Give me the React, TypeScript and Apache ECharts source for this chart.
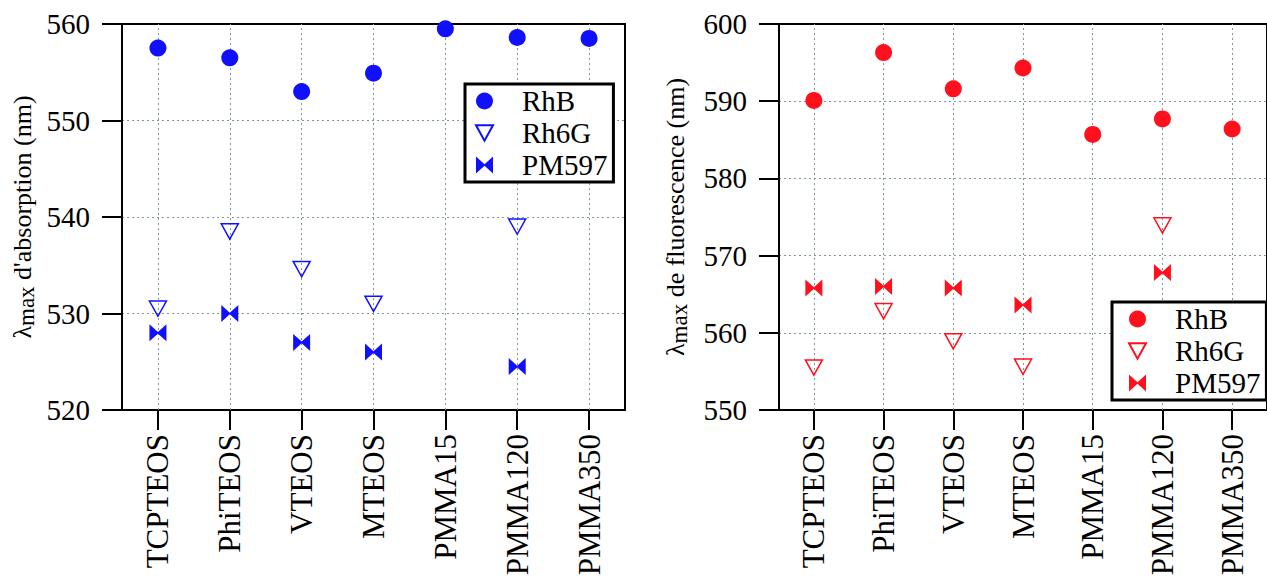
import React, { useEffect, useRef } from "react";
import * as echarts from "echarts";

const categories = ["TCPTEOS", "PhiTEOS", "VTEOS", "MTEOS", "PMMA15", "PMMA120", "PMMA350"];
const seriesNames = ["RhB", "Rh6G", "PM597"];

// absorption maxima (nm)
const absRhB = [557.5, 556.5, 553.0, 554.9, 559.5, 558.6, 558.5];
const absRh6G = [530.5, 538.5, 534.6, 531.0, null, 539.0, null];
const absPM597 = [528.0, 530.0, 527.0, 526.0, null, 524.5, null];

// fluorescence maxima (nm)
const fluRhB = [590.1, 596.3, 591.6, 594.3, 585.7, 587.7, 586.4];
const fluRh6G = [555.5, 562.8, 558.9, 555.6, null, 573.9, null];
const fluPM597 = [565.8, 566.0, 565.8, 563.6, null, 567.8, null];

const absTicks = { min: 520, max: 560, interval: 10 };
const fluTicks = { min: 550, max: 600, interval: 10 };

const BLUE = "#1010ff";
const RED = "#ff101c";
const FONT = "Liberation Serif";
const GRIDC = "#7f979c";

const TRI = "path://M0,0L20,0L10,18Z";
const BOW = "path://M0,0L10,9L20,0L20,20L10,11L0,20Z";

function makeSeries(prefix: string, idx: number, color: string, data: any[][]) {
  const [rhb, rh6g, pm] = data;
  const vline = {
    silent: true,
    symbol: ["none", "none"],
    label: { show: false },
    z: 1,
    lineStyle: { color: GRIDC, type: [2, 3], width: 1 },
    data: categories.map((c) => ({ xAxis: c })),
  };
  return [
    {
      name: prefix + "|RhB",
      type: "scatter",
      xAxisIndex: idx,
      yAxisIndex: idx,
      z: 3,
      symbol: "circle",
      symbolSize: 17,
      itemStyle: { color, opacity: 1 },
      data: rhb,
      markLine: vline,
    },
    {
      name: prefix + "|Rh6G",
      type: "scatter",
      xAxisIndex: idx,
      yAxisIndex: idx,
      z: 3,
      symbol: TRI,
      symbolKeepAspect: true,
      symbolSize: 17,
      itemStyle: { color: "rgba(255,255,255,0)", borderColor: color, borderWidth: 1.5, opacity: 1 },
      data: rh6g,
    },
    {
      name: prefix + "|PM597",
      type: "scatter",
      xAxisIndex: idx,
      yAxisIndex: idx,
      z: 3,
      symbol: BOW,
      symbolKeepAspect: true,
      symbolSize: 17,
      itemStyle: { color, opacity: 1 },
      data: pm,
    },
  ];
}

function xAxis(gridIndex: number) {
  return {
    type: "category",
    gridIndex,
    data: categories,
    boundaryGap: true,
    axisLine: { lineStyle: { color: "#000", width: 2 } },
    axisTick: { show: true, alignWithLabel: true, length: 20, lineStyle: { color: "#000", width: 2 } },
    axisLabel: { rotate: 90, margin: 24, color: "#000", fontFamily: FONT, fontSize: 31 },
    splitLine: { show: false },
  };
}

function yAxis(gridIndex: number, t: any, name: string, nameGap: number) {
  return {
    type: "value",
    gridIndex,
    min: t.min,
    max: t.max,
    interval: t.interval,
    name,
    nameLocation: "middle",
    nameRotate: 90,
    nameGap,
    nameTextStyle: {
      color: "#000",
      fontFamily: FONT,
      fontSize: 26,
      rich: {
        a: { fontFamily: FONT, fontSize: 26, color: "#000" },
        s: { fontFamily: FONT, fontSize: 23, color: "#000", verticalAlign: "bottom", padding: [8, 0, 0, 0] },
      },
    },
    axisLine: { show: true, lineStyle: { color: "#000", width: 2 } },
    axisTick: { show: true, length: 20, lineStyle: { color: "#000", width: 2 } },
    axisLabel: { margin: 32, color: "#000", fontFamily: FONT, fontSize: 29 },
    splitLine: {
      show: true,
      showMinLine: false,
      showMaxLine: false,
      lineStyle: { color: GRIDC, type: [2, 3], width: 1 },
    },
  };
}

function legend(prefix: string, left: number, top: number, padLeft: number) {
  return {
    orient: "vertical",
    left,
    top,
    data: seriesNames.map((n) => prefix + "|" + n),
    formatter: (n: string) => n.split("|")[1],
    itemWidth: 17,
    itemHeight: 17,
    itemGap: 2,
    padding: [2, 6, 2, padLeft],
    borderColor: "#000",
    borderWidth: 3,
    backgroundColor: "#fff",
    selectedMode: false,
    textStyle: {
      color: "#000",
      fontFamily: FONT,
      fontSize: 29,
      lineHeight: 30,
      padding: [0, 0, 0, 24],
    },
  };
}

export default function App() {
  const ref = useRef<HTMLDivElement>(null);
  useEffect(() => {
    document.body.style.margin = "0";
    document.body.style.overflow = "hidden";
    if (!ref.current) return;
    const chart = echarts.init(ref.current, null, { renderer: "svg" });
    chart.setOption({
      animation: false,
      backgroundColor: "#fff",
      textStyle: { fontFamily: FONT },
      grid: [
        { left: 122, top: 24, width: 503, height: 386, show: true, borderColor: "#000", borderWidth: 2, containLabel: false },
        { left: 779, top: 24, width: 500, height: 386, show: true, borderColor: "#000", borderWidth: 2, containLabel: false },
      ],
      xAxis: [xAxis(0), xAxis(1)],
      yAxis: [
        yAxis(0, absTicks, "{a|λ}{s|max}{a| d'absorption (nm)}", 84),
        yAxis(1, fluTicks, "{a|λ}{s|max}{a| de fluorescence (nm)}", 88),
      ],
      legend: [legend("abs", 465, 84, 10), legend("flu", 1112, 302, 16)],
      series: [
        ...makeSeries("abs", 0, BLUE, [absRhB, absRh6G, absPM597]),
        ...makeSeries("flu", 1, RED, [fluRhB, fluRh6G, fluPM597]),
      ],
    });
    return () => chart.dispose();
  }, []);
  return <div ref={ref} style={{ width: 1267, height: 580 }} />;
}
